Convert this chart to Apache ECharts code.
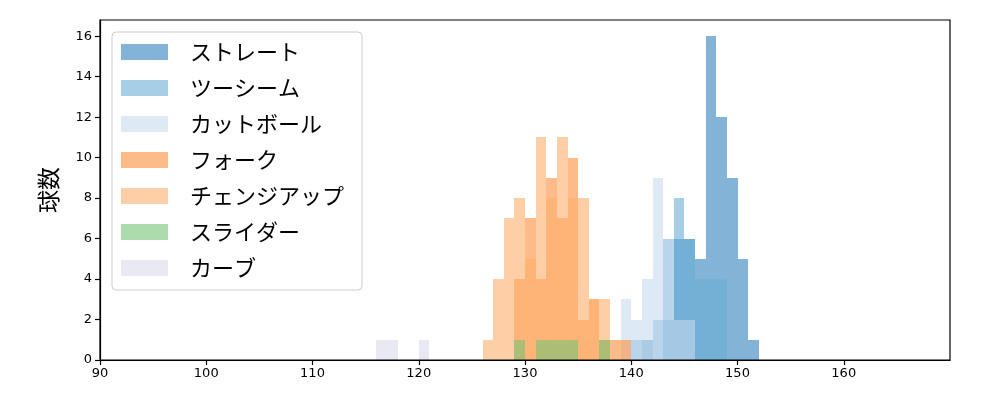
<!DOCTYPE html>
<html>
<head>
<meta charset="utf-8">
<script src="https://cdn.jsdelivr.net/npm/echarts@6/dist/echarts.min.js"></script>
<style>html,body{margin:0;padding:0;background:#fff}#c{width:1000px;height:400px}</style>
</head>
<body>
<div id="c"></div>
<script>
// pitch types (legend order = draw order)
const pitchNames = ['ストレート', 'ツーシーム', 'カットボール', 'フォーク', 'チェンジアップ', 'スライダー', 'カーブ'];
const pitchColors = ['#3182bd', '#6baed6', '#c6dbef', '#fd8d3c', '#fdae6b', '#74c476', '#dadaeb'];
// histogram bins: width 1 km/h, first bin left edge, counts per bin
const binWidth = 1;
const straightStart = 141;
const straightCounts = [1, 0, 2, 6, 6, 5, 16, 12, 9, 5, 1];
const twoSeamStart = 140;
const twoSeamCounts = [1, 0, 2, 6, 8, 6, 4, 4, 4];
const cutterStart = 139;
const cutterCounts = [3, 2, 4, 9, 6, 2, 2];
const forkStart = 129;
const forkCounts = [4, 7, 4, 9, 7, 10, 2, 3, 1, 1, 1];
const changeupStart = 126;
const changeupCounts = [1, 4, 7, 8, 5, 11, 8, 11, 8, 8, 3, 3];
const sliderStart = 129;
const sliderCounts = [1, 0, 1, 1, 1, 1, 0, 0, 1];
const curveStart = 116;
const curveCounts = [1, 1, 0, 0, 1];
// axes
const xTicks = [90, 100, 110, 120, 130, 140, 150, 160];
const yTicks = [0, 2, 4, 6, 8, 10, 12, 14, 16];

const starts = [straightStart, twoSeamStart, cutterStart, forkStart, changeupStart, sliderStart, curveStart];
const counts = [straightCounts, twoSeamCounts, cutterCounts, forkCounts, changeupCounts, sliderCounts, curveCounts];

function hexA(hex, a) {
  const r = parseInt(hex.slice(1, 3), 16), g = parseInt(hex.slice(3, 5), 16), b = parseInt(hex.slice(5, 7), 16);
  return 'rgba(' + r + ',' + g + ',' + b + ',' + a + ')';
}

const series = pitchNames.map(function (name, i) {
  const data = [];
  counts[i].forEach(function (c, k) {
    if (c > 0) {
      const x0 = starts[i] + k * binWidth;
      data.push([x0, x0 + binWidth, c]);
    }
  });
  const fill = hexA(pitchColors[i], 0.6);
  return {
    type: 'custom',
    name: name,
    itemStyle: { color: fill },
    z: 2 + i,
    renderItem: function (params, api) {
      const p0 = api.coord([api.value(0), api.value(2)]);
      const p1 = api.coord([api.value(1), 0]);
      const x0 = Math.round(p0[0]), x1 = Math.round(p1[0]);
      const y0 = Math.round(p0[1]), y1 = Math.round(p1[1]);
      return {
        type: 'rect',
        shape: { x: x0, y: y0, width: x1 - x0, height: y1 - y0 },
        style: { fill: fill }
      };
    },
    encode: { x: [0, 1], y: 2 },
    data: data
  };
});

const chart = echarts.init(document.getElementById('c'), null, { renderer: 'canvas' });
chart.setOption({
  animation: false,
  backgroundColor: '#ffffff',
  grid: { left: 100, right: 50, top: 20, bottom: 40, show: true, borderColor: '#000', borderWidth: 1.2, backgroundColor: 'transparent', z: 10 },
  xAxis: {
    type: 'value', min: 90, max: 170, interval: 10,
    axisLine: { show: true, lineStyle: { color: '#000', width: 1.2 } },
    axisTick: { show: true, length: 5, lineStyle: { color: '#000', width: 1.2 }, customValues: xTicks },
    axisLabel: { color: '#000', fontSize: 13, fontFamily: 'DejaVu Sans', margin: 7, customValues: xTicks },
    splitLine: { show: false }
  },
  yAxis: {
    type: 'value', min: 0, max: 16.8, interval: 2,
    name: '球数', nameLocation: 'middle', nameGap: 40,
    nameTextStyle: { color: '#000', fontSize: 23, fontFamily: 'Noto Sans CJK JP' },
    axisLine: { show: true, lineStyle: { color: '#000', width: 1.2 } },
    axisTick: { show: true, length: 5, lineStyle: { color: '#000', width: 1.2 }, customValues: yTicks },
    axisLabel: { color: '#000', fontSize: 13, fontFamily: 'DejaVu Sans', margin: 8, customValues: yTicks },
    splitLine: { show: false }
  },
  legend: {
    orient: 'vertical', left: 112, top: 32,
    data: pitchNames,
    icon: 'rect', itemWidth: 47, itemHeight: 16, itemGap: 14,
    padding: [9, 18, 11, 9],
    backgroundColor: 'rgba(255,255,255,0.8)', borderColor: '#cccccc', borderWidth: 1, borderRadius: 4,
    textStyle: { color: '#000', fontSize: 22, lineHeight: 22, fontFamily: 'Noto Sans CJK JP', padding: [0, 0, 0, 17] },
    z: 20
  },
  series: series
});
</script>
</body>
</html>
